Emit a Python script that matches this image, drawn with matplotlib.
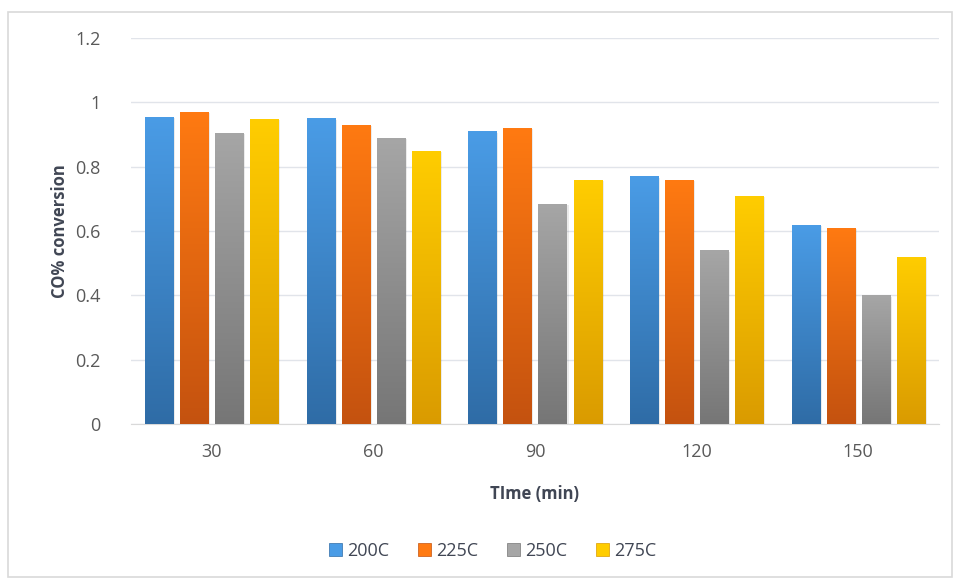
import matplotlib.pyplot as plt
import matplotlib.patches as mpatches
from matplotlib.colors import LinearSegmentedColormap
import numpy as np

plt.rcParams['font.family'] = ['Open Sans', 'DejaVu Sans']

times = ['30', '60', '90', '120', '150']
series = ['200C', '225C', '250C', '275C']
c200 = [0.955, 0.95, 0.91, 0.77, 0.62]
c225 = [0.97, 0.93, 0.92, 0.76, 0.61]
c250 = [0.905, 0.89, 0.685, 0.54, 0.40]
c275 = [0.948, 0.85, 0.76, 0.71, 0.52]
values = [c200, c225, c250, c275]

# top / bottom gradient colours per series
tops = ['#4A9CE6', '#FF7A12', '#A6A6A6', '#FFCD00']
bottoms = ['#2F6CA6', '#C4520F', '#767676', '#DA9B00']

fig = plt.figure(figsize=(9.57, 5.81), dpi=100)
ax = fig.add_axes([131/957, 157/581, 808/957, 386/581])

# outer chart border
fig.patches.append(mpatches.Rectangle((8/957, 4/581), 944/957, 565/581,
                                      transform=fig.transFigure, fill=False,
                                      edgecolor='#D9D9D9', lw=1.2))

x = np.arange(len(times))
w = 0.174
step = 0.217
offsets = (np.arange(len(series)) - 1.5) * step

grad = np.linspace(0, 1, 256).reshape(-1, 1)
for i, s in enumerate(series):
    cmap = LinearSegmentedColormap.from_list(s, [bottoms[i], tops[i]])
    for j, v in enumerate(values[i]):
        x0 = x[j] + offsets[i] - w / 2
        # faint shadow
        sh = mpatches.Rectangle((x0 + 0.012, 0), w, v - 0.004, facecolor='#000000',
                                alpha=0.08, lw=0, zorder=2)
        ax.add_patch(sh)
        bar = mpatches.Rectangle((x0, 0), w, v, facecolor='none', lw=0, zorder=3)
        ax.add_patch(bar)
        im = ax.imshow(grad, cmap=cmap, origin='lower', aspect='auto',
                       extent=[x0, x0 + w, 0, v], zorder=3)
        im.set_clip_path(bar)

ax.set_xlim(-0.5, len(times) - 0.5)
ax.set_ylim(0, 1.2)
ax.set_yticks(np.arange(0, 1.21, 0.2))
ax.set_yticklabels(['0', '0.2', '0.4', '0.6', '0.8', '1', '1.2'])
ax.set_xticks(x)
ax.set_xticklabels(times)
ax.tick_params(length=0, labelsize=13, colors='#595959', pad=14)
ax.tick_params(axis='y', pad=22)
ax.grid(axis='y', color='#E1E4EA', lw=1)
ax.set_axisbelow(True)
for sp in ['top', 'right', 'left']:
    ax.spines[sp].set_visible(False)
ax.spines['bottom'].set_color('#D9D9D9')

ax.set_ylabel('CO% conversion', fontsize=12, fontweight='bold', color='#404654', labelpad=4)
ax.set_xlabel('TIme (min)', fontsize=12, fontweight='bold', color='#404654', labelpad=17)

handles = [mpatches.Patch(facecolor=tops[i], edgecolor=bottoms[i], lw=0.5, label=s)
           for i, s in enumerate(series)]
fig.legend(handles=handles, loc='center', bbox_to_anchor=(493/957, 1 - 551/581),
           ncol=4, frameon=False, fontsize=13, handlelength=0.7, handleheight=0.7,
           handletextpad=0.3, columnspacing=1.6, labelcolor='#404654')

plt.savefig('out.png', dpi=100)
